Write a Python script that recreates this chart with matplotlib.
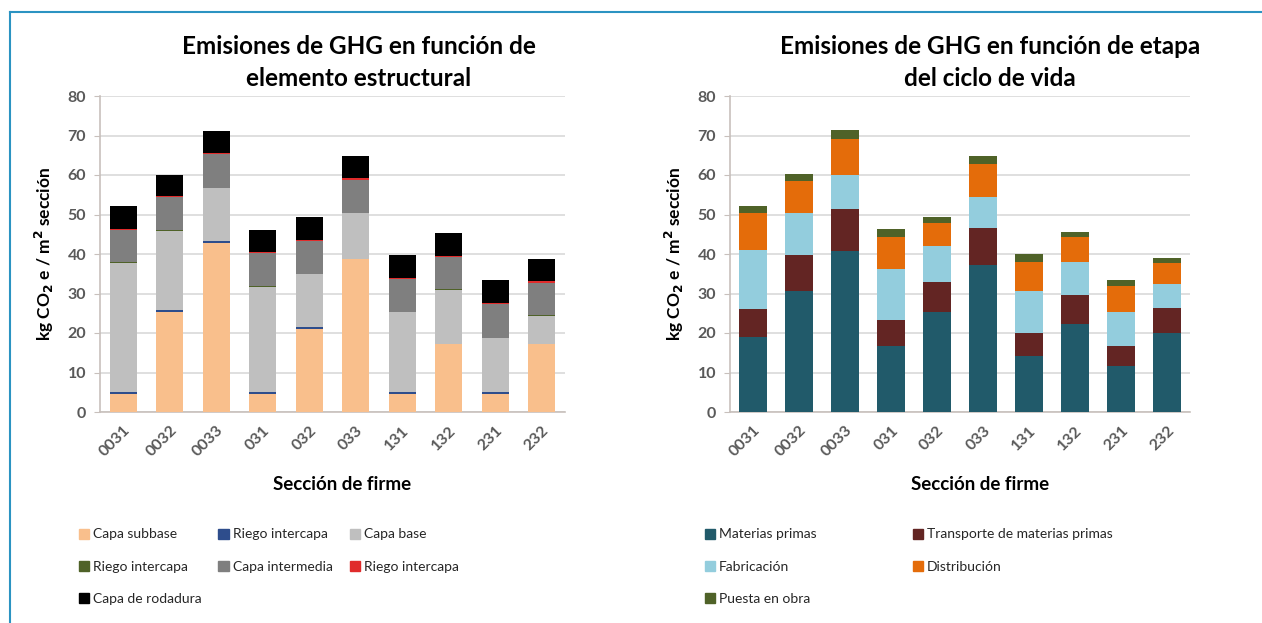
import matplotlib.pyplot as plt
import numpy as np
from matplotlib.lines import Line2D
from matplotlib.patches import Patch

plt.rcParams['font.family'] = ['Lato', 'DejaVu Sans']
plt.rcParams['mathtext.default'] = 'bf'

secciones = ["0031", "0032", "0033", "031", "032", "033", "131", "132", "231", "232"]

# left chart: emissions per structural element (kg CO2e / m2)
capa_subbase = [4.5, 25.4, 42.8, 4.5, 20.9, 38.8, 4.5, 17.1, 4.5, 17.1]
riego_1 = [0.6, 0.5, 0.6, 0.6, 0.5, 0.0, 0.6, 0.0, 0.6, 0.0]
capa_base = [32.7, 19.9, 13.2, 26.6, 13.5, 11.5, 20.1, 13.8, 13.6, 7.2]
riego_2 = [0.15, 0.15, 0.15, 0.15, 0.15, 0.15, 0.15, 0.15, 0.15, 0.15]
capa_intermedia = [8.2, 8.5, 8.6, 8.4, 8.2, 8.4, 8.3, 8.2, 8.5, 8.3]
riego_3 = [0.3, 0.3, 0.3, 0.3, 0.3, 0.3, 0.3, 0.3, 0.3, 0.3]
capa_rodadura = [5.6, 5.3, 5.5, 5.6, 5.7, 5.6, 5.7, 5.8, 5.7, 5.8]

# right chart: emissions per life-cycle stage
materias_primas = [18.9, 30.7, 40.8, 16.6, 25.2, 37.2, 14.2, 22.3, 11.7, 20.1]
transporte = [7.2, 9.0, 10.5, 6.6, 7.8, 9.5, 5.8, 7.3, 5.1, 6.3]
fabricacion = [14.9, 10.7, 8.7, 12.9, 8.9, 7.8, 10.7, 8.5, 8.5, 6.0]
distribucion = [9.3, 8.0, 9.2, 8.3, 6.0, 8.4, 7.4, 6.1, 6.6, 5.2]
puesta_obra = [1.8, 1.8, 2.1, 1.9, 1.5, 1.9, 1.9, 1.4, 1.5, 1.5]

left_series = [
    ("Capa subbase", capa_subbase, "#f9bf8c"),
    ("Riego intercapa", riego_1, "#2e4d8c"),
    ("Capa base", capa_base, "#bfbfbf"),
    ("Riego intercapa", riego_2, "#4f6228"),
    ("Capa intermedia", capa_intermedia, "#7f7f7f"),
    ("Riego intercapa", riego_3, "#e02b2b"),
    ("Capa de rodadura", capa_rodadura, "#000000"),
]
right_series = [
    ("Materias primas", materias_primas, "#215a6a"),
    ("Transporte de materias primas", transporte, "#632523"),
    ("Fabricación", fabricacion, "#93cddd"),
    ("Distribución", distribucion, "#e46c0a"),
    ("Puesta en obra", puesta_obra, "#4f6228"),
]

fig = plt.figure(figsize=(12.62, 6.23), dpi=100)
ax1 = fig.add_axes([100 / 1262, 1 - 412 / 623, 465 / 1262, 316 / 623])
ax2 = fig.add_axes([730 / 1262, 1 - 412 / 623, 460 / 1262, 316 / 623])

tick_color = "#595959"
x = np.arange(len(secciones))


def stacked(ax, series, width):
    bottom = np.zeros(len(secciones))
    for name, vals, color in series:
        ax.bar(x, vals, width, bottom=bottom, color=color, zorder=3)
        bottom += np.array(vals)
    ax.set_ylim(0, 80)
    ax.set_xlim(-0.5, len(secciones) - 0.5)
    ax.set_yticks(range(0, 81, 10))
    ax.yaxis.grid(True, color="#d9d9d9", linewidth=1.2, zorder=0)
    for s in ["top", "right"]:
        ax.spines[s].set_visible(False)
    for s in ["left", "bottom"]:
        ax.spines[s].set_color("#c8c0bc")
        ax.spines[s].set_linewidth(1.2)
    ax.set_xticks(x)
    ax.set_xticklabels(secciones, rotation=45, ha="right", rotation_mode="anchor")
    ax.tick_params(axis="x", length=0, pad=8, labelsize=11.5, labelcolor=tick_color)
    ax.tick_params(axis="y", length=4, color="#c8c0bc", labelsize=11.5, labelcolor=tick_color, pad=6)
    for lbl in ax.get_xticklabels() + ax.get_yticklabels():
        lbl.set_fontweight("bold")
    ax.set_ylabel("kg CO$_2$ e / m$^2$ sección", fontsize=12.5, fontweight="bold", labelpad=8)


stacked(ax1, left_series, 0.58)
stacked(ax2, right_series, 0.62)

# titles: one text per line to get the wider line gap of the original
title_kw = dict(ha="center", va="center", fontsize=17.5, fontweight="bold")
fig.text(359 / 1262, 1 - 47 / 623, "Emisiones de GHG en función de", **title_kw)
fig.text(359 / 1262, 1 - 78 / 623, "elemento estructural", **title_kw)
fig.text(990 / 1262, 1 - 47 / 623, "Emisiones de GHG en función de etapa", **title_kw)
fig.text(990 / 1262, 1 - 78 / 623, "del ciclo de vida", **title_kw)

fig.text(342 / 1262, 1 - 485 / 623, "Sección de firme", ha="center", va="center",
         fontsize=13.5, fontweight="bold")
fig.text(980 / 1262, 1 - 485 / 623, "Sección de firme", ha="center", va="center",
         fontsize=13.5, fontweight="bold")

# legends are filled column by column, so reorder to read row by row
h1 = [Patch(color=c, label=n) for n, _, c in left_series]
h1 = [h1[i] for i in [0, 3, 6, 1, 4, 2, 5]]
fig.legend(handles=h1, loc="upper left", bbox_to_anchor=(66 / 1262, 1 - 516 / 623), ncol=3,
           frameon=False, fontsize=10, handlelength=0.75, handleheight=0.75, handletextpad=0.3,
           columnspacing=1.2, labelspacing=1.45, labelcolor="#262626")
h2 = [Patch(color=c, label=n) for n, _, c in right_series]
h2 = [h2[i] for i in [0, 2, 4, 1, 3]]
fig.legend(handles=h2, loc="upper left", bbox_to_anchor=(692 / 1262, 1 - 516 / 623), ncol=2,
           frameon=False, fontsize=10, handlelength=0.75, handleheight=0.75, handletextpad=0.3,
           columnspacing=6.9, labelspacing=1.45, labelcolor="#262626")

# blue frame of the figure box
border = "#2b93c2"
fig.add_artist(Line2D([10 / 1262, 10 / 1262], [0, 1 - 12 / 623], color=border, linewidth=1.5))
fig.add_artist(Line2D([10 / 1262, 1], [1 - 12 / 623, 1 - 12 / 623], color=border, linewidth=1.5))

fig.savefig("out.png", dpi=100)
